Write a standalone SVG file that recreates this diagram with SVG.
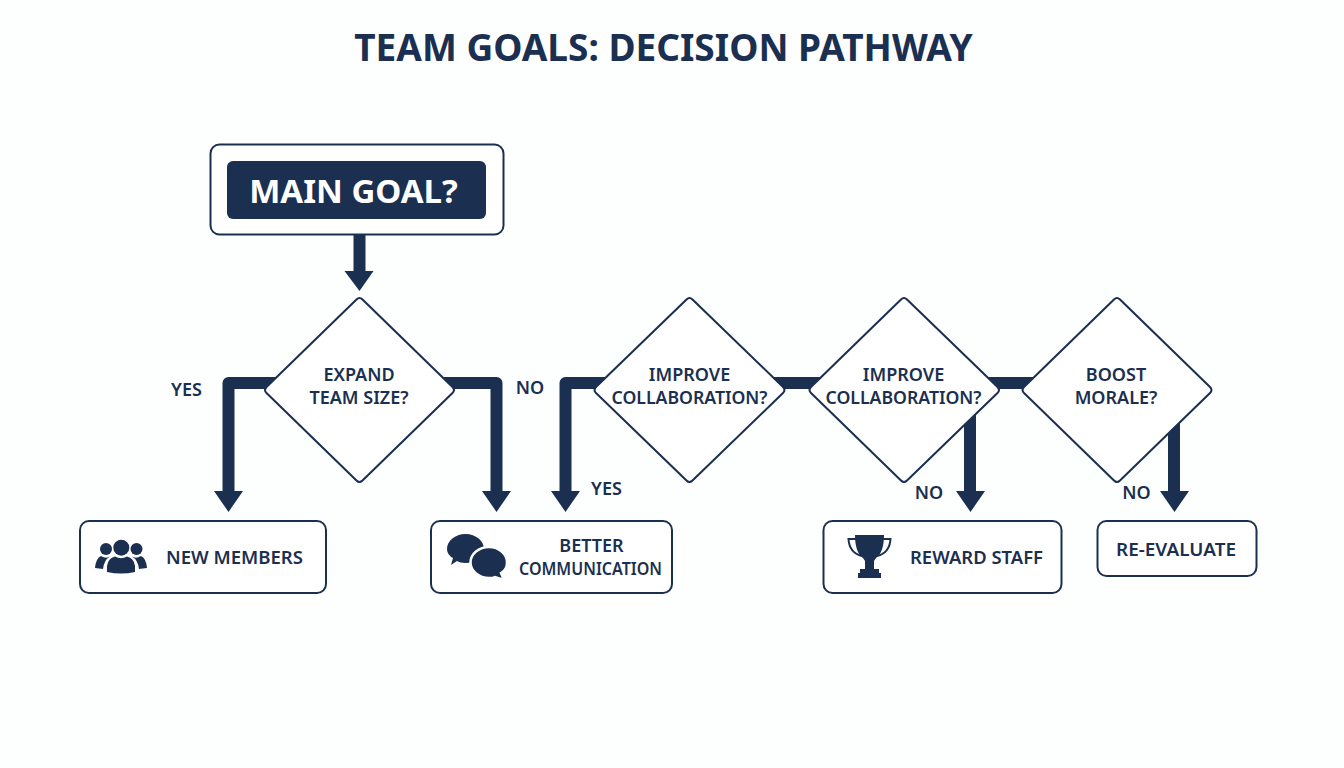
<svg xmlns="http://www.w3.org/2000/svg" width="1344" height="768" viewBox="0 0 1344 768">
<style>
text{font-family:"Noto Sans","Open Sans","Liberation Sans",sans-serif;font-weight:600;fill:#1b2f50;text-anchor:middle}
.box{fill:#fff;stroke:#1b2f50;stroke-width:2}
.dia{fill:#fff;stroke:#1b2f50;stroke-width:2;stroke-linejoin:round}
.line{fill:none;stroke:#1b2f50;stroke-width:12;stroke-linejoin:round}
.head{fill:#1b2f50}
.lab{font-size:18px}
.t{font-size:18px}
.ic{fill:#1b2f50}
</style>
<rect width="1344" height="768" fill="#fdfefe"/>
<text x="663.500" y="60.500" style="font-size:37px;font-weight:700">TEAM GOALS: DECISION PATHWAY</text>
<g id="connectors">
<path class="line" d="M359.500 235V272"/><polygon class="head" points="344.500,271 373.500,271 359.500,291"/>
<path class="line" d="M290 383H228.500V492"/><polygon class="head" points="214,491 243,491 228.500,512"/>
<path class="line" d="M430 383H496.500V492"/><polygon class="head" points="482,491 511,491 496.500,512"/>
<path class="line" d="M620 383H565.500V492"/><polygon class="head" points="551,491 580,491 565.500,512"/>
<path class="line" d="M760 383H830"/>
<path class="line" d="M975 383H1045"/>
<path class="line" d="M970 405V492"/><polygon class="head" points="956,491 985,491 970.500,512"/>
<path class="line" d="M1174 410V492"/><polygon class="head" points="1160,491 1189,491 1174.500,512"/>
</g>
<g id="main-goal">
<rect class="box" x="210.500" y="144.500" width="293" height="90" rx="9"/>
<rect x="227" y="161" width="259" height="58" rx="6" fill="#1b2f50"/>
<text x="353.500" y="202.500" style="font-size:33px;font-weight:700;fill:#fff">MAIN GOAL?</text>
</g>
<g id="d-expand">
<path class="dia" d="M356.500 299.500Q359.500 296.500 362.500 299.500L452.500 387Q455.500 390 452.500 393L362.500 480.500Q359.500 483.500 356.500 480.500L266.500 393Q263.500 390 266.500 387Z"/>
<text class="t" x="359" y="381">EXPAND</text><text class="t" x="359" y="404">TEAM SIZE?</text>
</g>
<g id="d-collab-1">
<path class="dia" d="M686.500 299.500Q689.500 296.500 692.500 299.500L783 387Q786 390 783 393L692.500 480.500Q689.500 483.500 686.500 480.500L596 393Q593 390 596 387Z"/>
<text class="t" x="689.500" y="381">IMPROVE</text><text class="t" x="689.500" y="404" textLength="156" lengthAdjust="spacingAndGlyphs">COLLABORATION?</text>
</g>
<g id="d-collab-2">
<path class="dia" d="M901 299.500Q904 296.500 907 299.500L997.500 387Q1000.500 390 997.500 393L907 480.500Q904 483.500 901 480.500L811 393Q808 390 811 387Z"/>
<text class="t" x="903.500" y="381">IMPROVE</text><text class="t" x="903.500" y="404" textLength="156" lengthAdjust="spacingAndGlyphs">COLLABORATION?</text>
</g>
<g id="d-morale">
<path class="dia" d="M1114 299.500Q1117 296.500 1120 299.500L1210 387Q1213 390 1210 393L1120 480.500Q1117 483.500 1114 480.500L1024 393Q1021 390 1024 387Z"/>
<text class="t" x="1116" y="381">BOOST</text><text class="t" x="1116" y="404">MORALE?</text>
</g>
<g id="labels">
<text class="lab" x="186.500" y="396">YES</text>
<text class="lab" x="530" y="394">NO</text>
<text class="lab" x="606.500" y="495">YES</text>
<text class="lab" x="929" y="499">NO</text>
<text class="lab" x="1136.500" y="499">NO</text>
</g>
<g id="new-members">
<rect class="box" x="80" y="521" width="246" height="72" rx="9"/>
<g class="ic">
<circle cx="121.300" cy="547.700" r="8"/><circle cx="106" cy="549" r="6"/><circle cx="136.500" cy="549" r="6"/>
<path d="M107 572V566Q108 558 115 556.500Q121 560 127 556.500Q134 558 135 566V572Q121 575 107 572Z"/>
<path d="M95 568Q96 558 101 556Q106 559 110 556.500Q104 560 103 569Z"/>
<path d="M147 568Q146 558 141 556Q136 559 132 556.500Q138 560 139 569Z"/>
</g>
<text class="t" x="234.500" y="564" textLength="137" lengthAdjust="spacingAndGlyphs">NEW MEMBERS</text>
</g>
<g id="better-communication">
<rect class="box" x="431" y="521" width="241" height="72" rx="9"/>
<g class="ic">
<path d="M465.500 534C476 534 484 541 484 549C484 557 476 563 465.500 563C462 563 459 562 457 561L451 565L453 558C449 556 447 552 447 549C447 541 455 534 465.500 534Z"/>
<path d="M489 547C499 547 507 554 507 562.500C507 567 505 571 501 573L504 580L495 577C493 578 491 578 489 578C479 578 470.500 571 470.500 562.500C470.500 554 479 547 489 547Z" stroke="#fff" stroke-width="2.500"/>
</g>
<text class="t" x="591.500" y="552">BETTER</text><text class="t" x="590.500" y="575" textLength="143" lengthAdjust="spacingAndGlyphs">COMMUNICATION</text>
</g>
<g id="reward-staff">
<rect class="box" x="823.500" y="521" width="238" height="72" rx="9"/>
<g class="ic">
<path d="M855 535H884C884 545 882 554 876 558L874 561V569H879V573H881V578H858V573H860V569H865V561L863 558C857 554 855 545 855 535Z"/>
<path d="M857 539H848.500C849 548 854 554 862 556M882 539H890.500C890 548 885 554 877 556" fill="none" stroke="#1b2f50" stroke-width="2"/>
</g>
<text class="t" x="976.500" y="564" textLength="133" lengthAdjust="spacingAndGlyphs">REWARD STAFF</text>
</g>
<g id="re-evaluate">
<rect class="box" x="1097.500" y="521" width="159" height="55" rx="9"/>
<text class="t" x="1176" y="556" textLength="120" lengthAdjust="spacingAndGlyphs">RE-EVALUATE</text>
</g>
</svg>
